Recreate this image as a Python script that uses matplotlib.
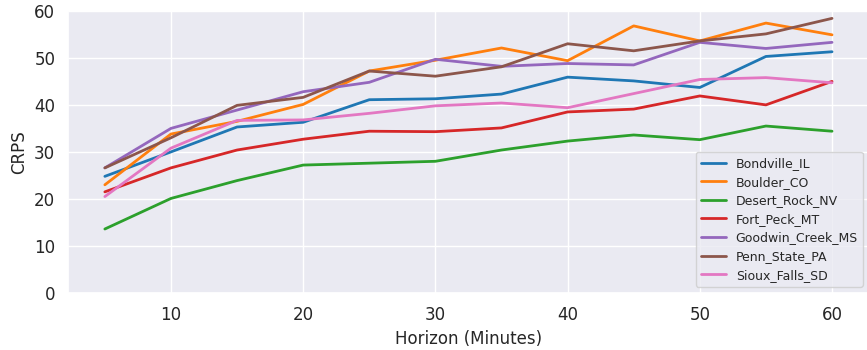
import matplotlib
matplotlib.use("Agg")
import matplotlib.pyplot as plt
import seaborn as sns

sns.set_theme(style="darkgrid", palette="tab10")
plt.rcParams['font.family'] = ['DejaVu Sans']

horizons = [5, 10, 15, 20, 25, 30, 35, 40, 45, 50, 55, 60]
bondville = [24.8, 30.0, 35.3, 36.3, 41.1, 41.3, 42.3, 45.9, 45.1, 43.7, 50.3, 51.3]
boulder = [23.0, 33.8, 36.5, 40.1, 47.2, 49.5, 52.1, 49.4, 56.8, 53.6, 57.4, 54.9]
desert_rock = [13.6, 20.1, 23.9, 27.2, 27.6, 28.0, 30.4, 32.3, 33.6, 32.6, 35.5, 34.4]
fort_peck = [21.5, 26.6, 30.4, 32.7, 34.4, 34.3, 35.1, 38.5, 39.1, 41.9, 40.0, 45.0]
goodwin = [26.6, 35.0, 38.9, 42.8, 44.8, 49.7, 48.2, 48.8, 48.5, 53.3, 52.0, 53.3]
penn_state = [26.6, 33.0, 39.9, 41.6, 47.2, 46.1, 48.1, 53.0, 51.5, 53.6, 55.1, 58.4]
sioux_falls = [20.5, 30.8, 36.7, 36.8, 38.2, 39.8, 40.4, 39.4, 42.4, 45.4, 45.8, 44.7]

series = [
    ("Bondville_IL", bondville),
    ("Boulder_CO", boulder),
    ("Desert_Rock_NV", desert_rock),
    ("Fort_Peck_MT", fort_peck),
    ("Goodwin_Creek_MS", goodwin),
    ("Penn_State_PA", penn_state),
    ("Sioux_Falls_SD", sioux_falls),
]
colors = plt.get_cmap("tab10").colors

fig, ax = plt.subplots(figsize=(8.67, 3.5), dpi=100)
fig.subplots_adjust(left=0.079, right=1.0016, top=0.969, bottom=0.163)
for (name, vals), c in zip(series, colors):
    ax.plot(horizons, vals, label=name, linewidth=2, color=c)

ax.set_ylim(0, 60)
ax.set_xlabel("Horizon (Minutes)", fontsize=12)
ax.set_ylabel("CRPS", fontsize=12)
ax.tick_params(labelsize=12)
ax.legend(loc="lower right", fontsize=9, bbox_to_anchor=(1.001, 0.0), labelspacing=0.45)
fig.savefig("out.png", dpi=100)
